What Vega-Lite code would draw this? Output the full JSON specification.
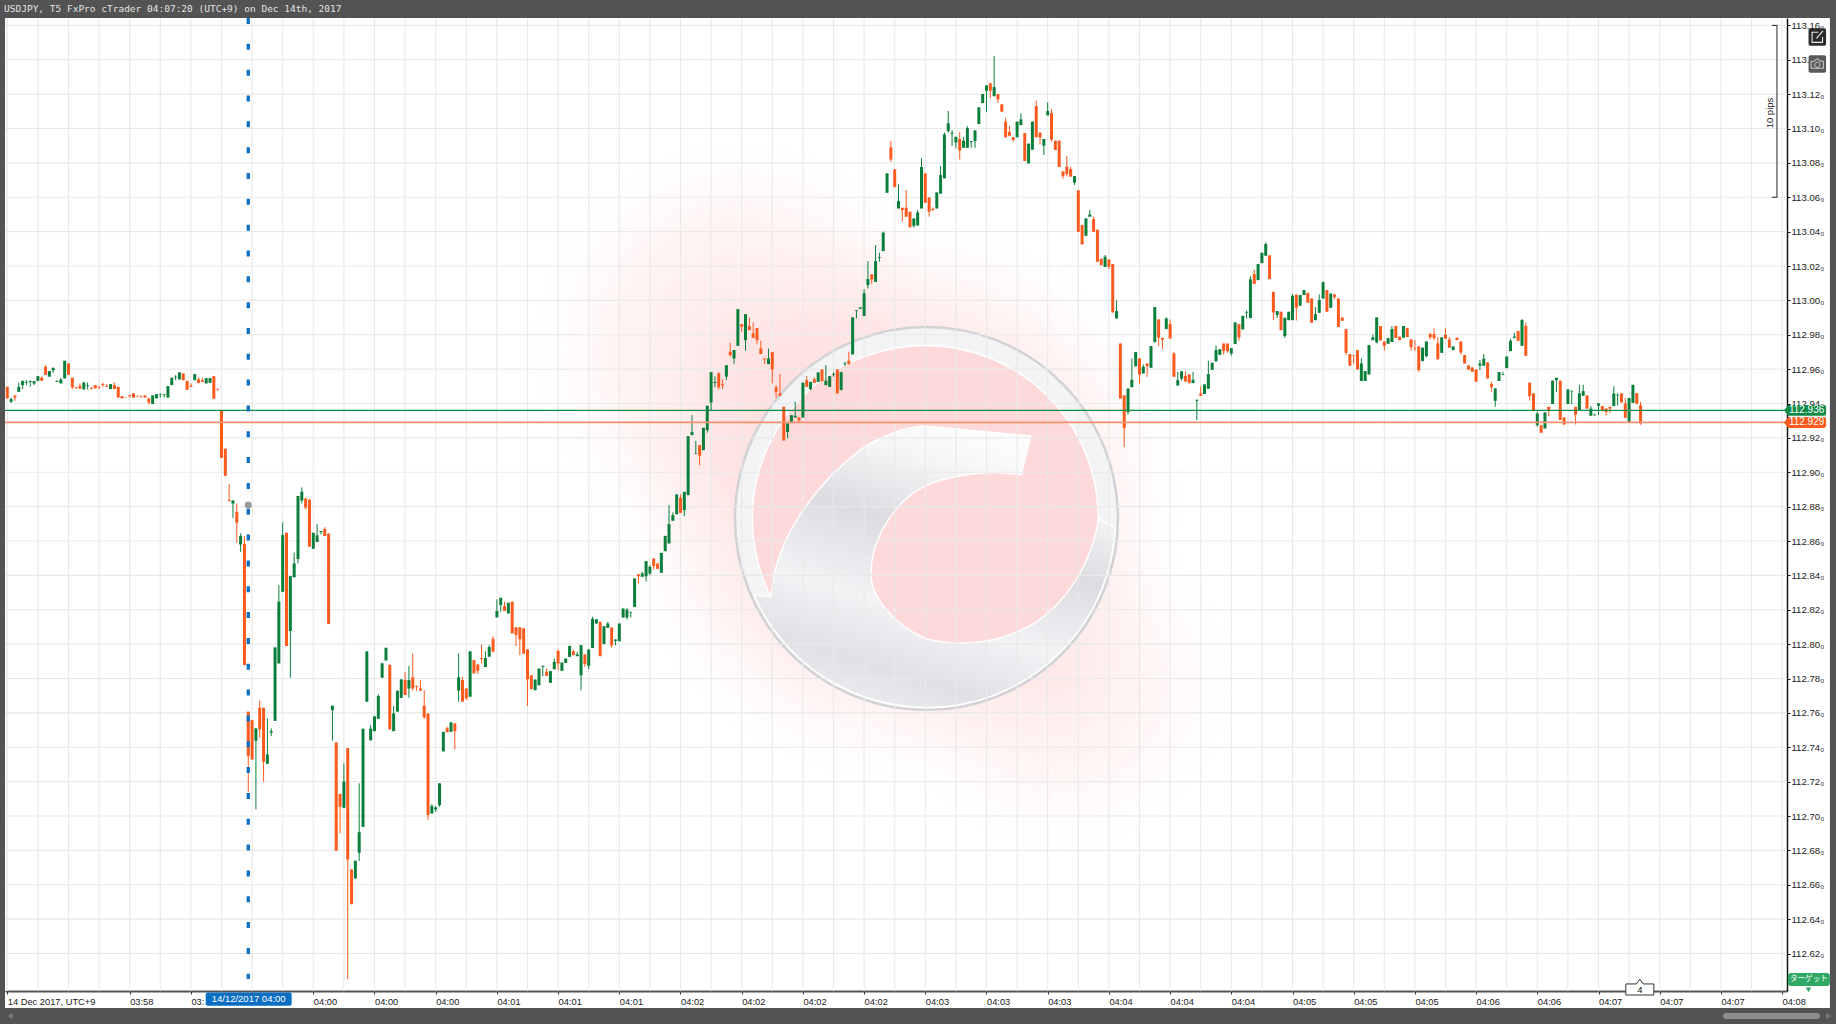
{"$schema":"https://vega.github.io/schema/vega-lite/v6.json","width":1782,"height":973,"autosize":{"type":"none"},"padding":{"left":5,"top":18,"right":49,"bottom":33},"background":"#ffffff","view":{"stroke":null},
"datasets":{
"gridx":[{"i":0,"p":113.1643,"p2":112.5982},{"i":8,"p":113.1643,"p2":112.5982},{"i":16,"p":113.1643,"p2":112.5982},{"i":24,"p":113.1643,"p2":112.5982},{"i":32,"p":113.1643,"p2":112.5982},{"i":40,"p":113.1643,"p2":112.5982},{"i":48,"p":113.1643,"p2":112.5982},{"i":56,"p":113.1643,"p2":112.5982},{"i":64,"p":113.1643,"p2":112.5982},{"i":72,"p":113.1643,"p2":112.5982},{"i":80,"p":113.1643,"p2":112.5982},{"i":88,"p":113.1643,"p2":112.5982},{"i":96,"p":113.1643,"p2":112.5982},{"i":104,"p":113.1643,"p2":112.5982},{"i":112,"p":113.1643,"p2":112.5982},{"i":120,"p":113.1643,"p2":112.5982},{"i":128,"p":113.1643,"p2":112.5982},{"i":136,"p":113.1643,"p2":112.5982},{"i":144,"p":113.1643,"p2":112.5982},{"i":152,"p":113.1643,"p2":112.5982},{"i":160,"p":113.1643,"p2":112.5982},{"i":168,"p":113.1643,"p2":112.5982},{"i":176,"p":113.1643,"p2":112.5982},{"i":184,"p":113.1643,"p2":112.5982},{"i":192,"p":113.1643,"p2":112.5982},{"i":200,"p":113.1643,"p2":112.5982},{"i":208,"p":113.1643,"p2":112.5982},{"i":216,"p":113.1643,"p2":112.5982},{"i":224,"p":113.1643,"p2":112.5982},{"i":232,"p":113.1643,"p2":112.5982},{"i":240,"p":113.1643,"p2":112.5982},{"i":248,"p":113.1643,"p2":112.5982},{"i":256,"p":113.1643,"p2":112.5982},{"i":264,"p":113.1643,"p2":112.5982},{"i":272,"p":113.1643,"p2":112.5982},{"i":280,"p":113.1643,"p2":112.5982},{"i":288,"p":113.1643,"p2":112.5982},{"i":296,"p":113.1643,"p2":112.5982},{"i":304,"p":113.1643,"p2":112.5982},{"i":312,"p":113.1643,"p2":112.5982},{"i":320,"p":113.1643,"p2":112.5982},{"i":328,"p":113.1643,"p2":112.5982},{"i":336,"p":113.1643,"p2":112.5982},{"i":344,"p":113.1643,"p2":112.5982},{"i":352,"p":113.1643,"p2":112.5982},{"i":360,"p":113.1643,"p2":112.5982},{"i":368,"p":113.1643,"p2":112.5982},{"i":376,"p":113.1643,"p2":112.5982},{"i":384,"p":113.1643,"p2":112.5982},{"i":392,"p":113.1643,"p2":112.5982},{"i":400,"p":113.1643,"p2":112.5982},{"i":408,"p":113.1643,"p2":112.5982},{"i":416,"p":113.1643,"p2":112.5982},{"i":424,"p":113.1643,"p2":112.5982},{"i":432,"p":113.1643,"p2":112.5982},{"i":440,"p":113.1643,"p2":112.5982},{"i":448,"p":113.1643,"p2":112.5982},{"i":456,"p":113.1643,"p2":112.5982},{"i":464,"p":113.1643,"p2":112.5982}],
"gridy":[{"p":113.16,"i":-0.6,"i2":465.28},{"p":113.14,"i":-0.6,"i2":465.28},{"p":113.12,"i":-0.6,"i2":465.28},{"p":113.1,"i":-0.6,"i2":465.28},{"p":113.08,"i":-0.6,"i2":465.28},{"p":113.06,"i":-0.6,"i2":465.28},{"p":113.04,"i":-0.6,"i2":465.28},{"p":113.02,"i":-0.6,"i2":465.28},{"p":113,"i":-0.6,"i2":465.28},{"p":112.98,"i":-0.6,"i2":465.28},{"p":112.96,"i":-0.6,"i2":465.28},{"p":112.94,"i":-0.6,"i2":465.28},{"p":112.92,"i":-0.6,"i2":465.28},{"p":112.9,"i":-0.6,"i2":465.28},{"p":112.88,"i":-0.6,"i2":465.28},{"p":112.86,"i":-0.6,"i2":465.28},{"p":112.84,"i":-0.6,"i2":465.28},{"p":112.82,"i":-0.6,"i2":465.28},{"p":112.8,"i":-0.6,"i2":465.28},{"p":112.78,"i":-0.6,"i2":465.28},{"p":112.76,"i":-0.6,"i2":465.28},{"p":112.74,"i":-0.6,"i2":465.28},{"p":112.72,"i":-0.6,"i2":465.28},{"p":112.7,"i":-0.6,"i2":465.28},{"p":112.68,"i":-0.6,"i2":465.28},{"p":112.66,"i":-0.6,"i2":465.28},{"p":112.64,"i":-0.6,"i2":465.28},{"p":112.62,"i":-0.6,"i2":465.28}],
"candles":[
{"i":0,"o":112.9497,"h":112.9497,"l":112.943,"c":112.943},
{"i":1,"o":112.941,"h":112.9435,"l":112.9404,"c":112.9426},
{"i":2,"o":112.9447,"h":112.9447,"l":112.9416,"c":112.9435},
{"i":3,"o":112.9468,"h":112.9521,"l":112.9468,"c":112.9497},
{"i":4,"o":112.9507,"h":112.9532,"l":112.9484,"c":112.9532},
{"i":5,"o":112.9521,"h":112.9536,"l":112.9507,"c":112.9525},
{"i":6,"o":112.9526,"h":112.9532,"l":112.9497,"c":112.9532},
{"i":7,"o":112.9517,"h":112.9532,"l":112.9507,"c":112.953},
{"i":8,"o":112.9532,"h":112.9559,"l":112.9532,"c":112.9559},
{"i":9,"o":112.955,"h":112.9559,"l":112.9532,"c":112.9532},
{"i":10,"o":112.9614,"h":112.9623,"l":112.9567,"c":112.9567},
{"i":11,"o":112.9556,"h":112.9589,"l":112.9556,"c":112.9589},
{"i":12,"o":112.9594,"h":112.9608,"l":112.9579,"c":112.9608},
{"i":13,"o":112.9526,"h":112.9532,"l":112.9526,"c":112.9532},
{"i":14,"o":112.9517,"h":112.955,"l":112.9517,"c":112.954},
{"i":15,"o":112.9546,"h":112.9649,"l":112.9546,"c":112.9649},
{"i":16,"o":112.9633,"h":112.9633,"l":112.9567,"c":112.9567},
{"i":17,"o":112.955,"h":112.955,"l":112.9484,"c":112.9494},
{"i":18,"o":112.9494,"h":112.9494,"l":112.9488,"c":112.9488},
{"i":19,"o":112.9503,"h":112.9517,"l":112.9484,"c":112.9488},
{"i":20,"o":112.9482,"h":112.9523,"l":112.9482,"c":112.9523},
{"i":21,"o":112.9503,"h":112.9523,"l":112.9482,"c":112.9507},
{"i":22,"o":112.9488,"h":112.9497,"l":112.9482,"c":112.9484},
{"i":23,"o":112.9507,"h":112.9507,"l":112.9488,"c":112.9488},
{"i":24,"o":112.9497,"h":112.9503,"l":112.9484,"c":112.9494},
{"i":25,"o":112.9513,"h":112.9521,"l":112.9497,"c":112.9507},
{"i":26,"o":112.9503,"h":112.9513,"l":112.9497,"c":112.9497},
{"i":27,"o":112.9484,"h":112.9513,"l":112.9484,"c":112.9513},
{"i":28,"o":112.9507,"h":112.9523,"l":112.9484,"c":112.9484},
{"i":29,"o":112.9497,"h":112.9497,"l":112.9435,"c":112.9435},
{"i":30,"o":112.9443,"h":112.9443,"l":112.943,"c":112.943},
{"i":31,"o":112.9435,"h":112.9435,"l":112.9433,"c":112.9433},
{"i":32,"o":112.9449,"h":112.9449,"l":112.9435,"c":112.9443},
{"i":33,"o":112.9459,"h":112.9459,"l":112.9435,"c":112.9435},
{"i":34,"o":112.9445,"h":112.9445,"l":112.9441,"c":112.9441},
{"i":35,"o":112.9445,"h":112.9445,"l":112.9433,"c":112.9441},
{"i":36,"o":112.9447,"h":112.9447,"l":112.9435,"c":112.9435},
{"i":37,"o":112.943,"h":112.943,"l":112.9395,"c":112.9406},
{"i":38,"o":112.9397,"h":112.9447,"l":112.9397,"c":112.9447},
{"i":39,"o":112.943,"h":112.9455,"l":112.943,"c":112.9455},
{"i":40,"o":112.9453,"h":112.9457,"l":112.9435,"c":112.9457},
{"i":41,"o":112.9451,"h":112.9455,"l":112.9435,"c":112.9455},
{"i":42,"o":112.9435,"h":112.9501,"l":112.9435,"c":112.9501},
{"i":43,"o":112.9507,"h":112.955,"l":112.9507,"c":112.955},
{"i":44,"o":112.9552,"h":112.9565,"l":112.9536,"c":112.9556},
{"i":45,"o":112.954,"h":112.9581,"l":112.954,"c":112.9581},
{"i":46,"o":112.9575,"h":112.9575,"l":112.9536,"c":112.9536},
{"i":47,"o":112.9532,"h":112.9532,"l":112.948,"c":112.948},
{"i":48,"o":112.9505,"h":112.9517,"l":112.9497,"c":112.9497},
{"i":49,"o":112.9536,"h":112.9571,"l":112.9536,"c":112.9571},
{"i":50,"o":112.954,"h":112.9552,"l":112.9519,"c":112.9519},
{"i":51,"o":112.9536,"h":112.955,"l":112.9526,"c":112.9526},
{"i":52,"o":112.9517,"h":112.9548,"l":112.9517,"c":112.9548},
{"i":53,"o":112.9521,"h":112.9548,"l":112.9521,"c":112.9548},
{"i":54,"o":112.9559,"h":112.9559,"l":112.9428,"c":112.9428},
{"i":55,"o":112.9486,"h":112.9486,"l":112.9474,"c":112.9482},
{"i":56,"o":112.9358,"h":112.9358,"l":112.9084,"c":112.9084},
{"i":57,"o":112.9137,"h":112.9137,"l":112.8979,"c":112.8979},
{"i":58,"o":112.8838,"h":112.8931,"l":112.8832,"c":112.8832},
{"i":59,"o":112.8818,"h":112.8836,"l":112.8735,"c":112.8836},
{"i":60,"o":112.877,"h":112.8818,"l":112.8589,"c":112.8706},
{"i":61,"o":112.858,"h":112.8644,"l":112.8537,"c":112.863},
{"i":62,"o":112.8583,"h":112.8629,"l":112.7878,"c":112.7878},
{"i":63,"o":112.7607,"h":112.7607,"l":112.7141,"c":112.7349},
{"i":64,"o":112.7558,"h":112.7558,"l":112.7329,"c":112.7329},
{"i":65,"o":112.7438,"h":112.751,"l":112.7038,"c":112.751},
{"i":66,"o":112.763,"h":112.7671,"l":112.7455,"c":112.7504},
{"i":67,"o":112.763,"h":112.763,"l":112.7199,"c":112.7316},
{"i":68,"o":112.7304,"h":112.7568,"l":112.7304,"c":112.7358},
{"i":69,"o":112.7486,"h":112.751,"l":112.7465,"c":112.7494},
{"i":70,"o":112.7554,"h":112.7981,"l":112.7554,"c":112.7981},
{"i":71,"o":112.7888,"h":112.8344,"l":112.7888,"c":112.8247},
{"i":72,"o":112.8305,"h":112.8709,"l":112.8305,"c":112.8635},
{"i":73,"o":112.8648,"h":112.8648,"l":112.7989,"c":112.7989},
{"i":74,"o":112.8076,"h":112.8396,"l":112.7805,"c":112.8396},
{"i":75,"o":112.8389,"h":112.8532,"l":112.8389,"c":112.847},
{"i":76,"o":112.8495,"h":112.8862,"l":112.847,"c":112.8862},
{"i":77,"o":112.8835,"h":112.8912,"l":112.8819,"c":112.8887},
{"i":78,"o":112.8848,"h":112.8848,"l":112.8784,"c":112.8794},
{"i":79,"o":112.8839,"h":112.8848,"l":112.8567,"c":112.8567},
{"i":80,"o":112.8555,"h":112.8648,"l":112.8555,"c":112.8648},
{"i":81,"o":112.8594,"h":112.8699,"l":112.8594,"c":112.8633},
{"i":82,"o":112.8652,"h":112.8658,"l":112.8639,"c":112.8658},
{"i":83,"o":112.867,"h":112.8681,"l":112.8629,"c":112.8629},
{"i":84,"o":112.8643,"h":112.8643,"l":112.8117,"c":112.8117},
{"i":85,"o":112.7616,"h":112.7642,"l":112.7438,"c":112.7642},
{"i":86,"o":112.7428,"h":112.7428,"l":112.6798,"c":112.6798},
{"i":87,"o":112.7129,"h":112.7129,"l":112.6899,"c":112.7054},
{"i":88,"o":112.7048,"h":112.7306,"l":112.7048,"c":112.7201},
{"i":89,"o":112.7395,"h":112.7395,"l":112.6051,"c":112.6747},
{"i":90,"o":112.6689,"h":112.6689,"l":112.6487,"c":112.6487},
{"i":91,"o":112.6637,"h":112.674,"l":112.6637,"c":112.674},
{"i":92,"o":112.6786,"h":112.719,"l":112.6738,"c":112.6906},
{"i":93,"o":112.6937,"h":112.7508,"l":112.6937,"c":112.7508},
{"i":94,"o":112.7665,"h":112.7958,"l":112.7665,"c":112.7958},
{"i":95,"o":112.7442,"h":112.7529,"l":112.7436,"c":112.7508},
{"i":96,"o":112.7494,"h":112.758,"l":112.7494,"c":112.758},
{"i":97,"o":112.7566,"h":112.7708,"l":112.7566,"c":112.7698},
{"i":98,"o":112.7805,"h":112.7892,"l":112.7805,"c":112.7888},
{"i":99,"o":112.7905,"h":112.7979,"l":112.7905,"c":112.7979},
{"i":100,"o":112.788,"h":112.788,"l":112.7504,"c":112.7504},
{"i":101,"o":112.7494,"h":112.764,"l":112.7494,"c":112.7597},
{"i":102,"o":112.7607,"h":112.7729,"l":112.7607,"c":112.7729},
{"i":103,"o":112.7688,"h":112.7795,"l":112.7688,"c":112.7795},
{"i":104,"o":112.7791,"h":112.7839,"l":112.7704,"c":112.7704},
{"i":105,"o":112.7742,"h":112.7872,"l":112.7688,"c":112.7791},
{"i":106,"o":112.7807,"h":112.7946,"l":112.7729,"c":112.7742},
{"i":107,"o":112.7758,"h":112.7758,"l":112.7727,"c":112.7752},
{"i":108,"o":112.7742,"h":112.7791,"l":112.7729,"c":112.7729},
{"i":109,"o":112.7642,"h":112.7733,"l":112.7564,"c":112.7574},
{"i":110,"o":112.7597,"h":112.7597,"l":112.6976,"c":112.7005},
{"i":111,"o":112.7015,"h":112.7069,"l":112.7015,"c":112.7058},
{"i":112,"o":112.7038,"h":112.7058,"l":112.7025,"c":112.705},
{"i":113,"o":112.7063,"h":112.719,"l":112.7054,"c":112.719},
{"i":114,"o":112.7376,"h":112.749,"l":112.7376,"c":112.749},
{"i":115,"o":112.751,"h":112.7519,"l":112.7488,"c":112.7488},
{"i":116,"o":112.749,"h":112.7545,"l":112.749,"c":112.7545},
{"i":117,"o":112.7539,"h":112.7539,"l":112.7387,"c":112.7494},
{"i":118,"o":112.7729,"h":112.7946,"l":112.7665,"c":112.7807},
{"i":119,"o":112.7791,"h":112.781,"l":112.7665,"c":112.7665},
{"i":120,"o":112.7742,"h":112.7742,"l":112.7675,"c":112.7684},
{"i":121,"o":112.7694,"h":112.7958,"l":112.7694,"c":112.7958},
{"i":122,"o":112.7907,"h":112.7907,"l":112.783,"c":112.783},
{"i":123,"o":112.7882,"h":112.7882,"l":112.7826,"c":112.7845},
{"i":124,"o":112.7919,"h":112.7999,"l":112.7888,"c":112.7913},
{"i":125,"o":112.7867,"h":112.7958,"l":112.7867,"c":112.7919},
{"i":126,"o":112.7927,"h":112.7995,"l":112.7927,"c":112.7983},
{"i":127,"o":112.803,"h":112.8047,"l":112.7956,"c":112.7956},
{"i":128,"o":112.8156,"h":112.826,"l":112.8156,"c":112.8193},
{"i":129,"o":112.8227,"h":112.827,"l":112.8189,"c":112.827},
{"i":130,"o":112.8222,"h":112.8247,"l":112.8193,"c":112.8193},
{"i":131,"o":112.8179,"h":112.8241,"l":112.8179,"c":112.8241},
{"i":132,"o":112.8247,"h":112.8247,"l":112.8063,"c":112.8063},
{"i":133,"o":112.8098,"h":112.8098,"l":112.7989,"c":112.8053},
{"i":134,"o":112.8098,"h":112.8098,"l":112.7936,"c":112.8028},
{"i":135,"o":112.8092,"h":112.8092,"l":112.7944,"c":112.7944},
{"i":136,"o":112.7969,"h":112.7969,"l":112.764,"c":112.7795},
{"i":137,"o":112.7819,"h":112.7819,"l":112.7738,"c":112.7738},
{"i":138,"o":112.7732,"h":112.7794,"l":112.7732,"c":112.7794},
{"i":139,"o":112.7761,"h":112.7858,"l":112.7761,"c":112.7858},
{"i":140,"o":112.7868,"h":112.7874,"l":112.7813,"c":112.7874},
{"i":141,"o":112.7839,"h":112.7858,"l":112.7815,"c":112.7815},
{"i":142,"o":112.7775,"h":112.7843,"l":112.7775,"c":112.7843},
{"i":143,"o":112.7854,"h":112.7916,"l":112.7854,"c":112.7897},
{"i":144,"o":112.7961,"h":112.7969,"l":112.7848,"c":112.7887},
{"i":145,"o":112.7845,"h":112.7893,"l":112.7845,"c":112.7893},
{"i":146,"o":112.7891,"h":112.7916,"l":112.7891,"c":112.7916},
{"i":147,"o":112.7926,"h":112.799,"l":112.7926,"c":112.799},
{"i":148,"o":112.7959,"h":112.7969,"l":112.7936,"c":112.7936},
{"i":149,"o":112.793,"h":112.7955,"l":112.793,"c":112.794},
{"i":150,"o":112.7819,"h":112.7994,"l":112.7732,"c":112.7994},
{"i":151,"o":112.794,"h":112.794,"l":112.7868,"c":112.7883},
{"i":152,"o":112.7874,"h":112.7969,"l":112.7854,"c":112.7969},
{"i":153,"o":112.7978,"h":112.8159,"l":112.7978,"c":112.8147},
{"i":154,"o":112.812,"h":112.8145,"l":112.812,"c":112.8145},
{"i":155,"o":112.813,"h":112.813,"l":112.793,"c":112.793},
{"i":156,"o":112.8,"h":112.8104,"l":112.8,"c":112.8104},
{"i":157,"o":112.8095,"h":112.813,"l":112.8095,"c":112.812},
{"i":158,"o":112.8097,"h":112.8097,"l":112.798,"c":112.7992},
{"i":159,"o":112.8019,"h":112.8027,"l":112.7994,"c":112.8027},
{"i":160,"o":112.8017,"h":112.812,"l":112.8017,"c":112.812},
{"i":161,"o":112.8155,"h":112.8207,"l":112.8155,"c":112.8207},
{"i":162,"o":112.8155,"h":112.8211,"l":112.8143,"c":112.8201},
{"i":163,"o":112.8184,"h":112.8188,"l":112.8155,"c":112.8188},
{"i":164,"o":112.8217,"h":112.8382,"l":112.8217,"c":112.8382},
{"i":165,"o":112.8407,"h":112.8407,"l":112.8353,"c":112.8395},
{"i":166,"o":112.8392,"h":112.8421,"l":112.8392,"c":112.8411},
{"i":167,"o":112.8395,"h":112.8483,"l":112.8366,"c":112.8483},
{"i":168,"o":112.8411,"h":112.8459,"l":112.8401,"c":112.845},
{"i":169,"o":112.8498,"h":112.8498,"l":112.8434,"c":112.8454},
{"i":170,"o":112.8469,"h":112.8469,"l":112.8438,"c":112.8438},
{"i":171,"o":112.8415,"h":112.8531,"l":112.8415,"c":112.8531},
{"i":172,"o":112.8541,"h":112.863,"l":112.8541,"c":112.863},
{"i":173,"o":112.8586,"h":112.8809,"l":112.8586,"c":112.8698},
{"i":174,"o":112.8718,"h":112.8766,"l":112.8718,"c":112.875},
{"i":175,"o":112.8756,"h":112.8871,"l":112.8756,"c":112.8871},
{"i":176,"o":112.8851,"h":112.8871,"l":112.8764,"c":112.8764},
{"i":177,"o":112.878,"h":112.8886,"l":112.8745,"c":112.8886},
{"i":178,"o":112.8867,"h":112.921,"l":112.8867,"c":112.921},
{"i":179,"o":112.9216,"h":112.9332,"l":112.9216,"c":112.9235},
{"i":180,"o":112.9106,"h":112.9183,"l":112.9106,"c":112.9109},
{"i":181,"o":112.9158,"h":112.9158,"l":112.9041,"c":112.9096},
{"i":182,"o":112.9129,"h":112.9259,"l":112.9129,"c":112.9259},
{"i":183,"o":112.9245,"h":112.9387,"l":112.923,"c":112.9387},
{"i":184,"o":112.9406,"h":112.9583,"l":112.9358,"c":112.9583},
{"i":185,"o":112.9519,"h":112.9559,"l":112.9494,"c":112.9525},
{"i":186,"o":112.9575,"h":112.9583,"l":112.9482,"c":112.9494},
{"i":187,"o":112.9513,"h":112.954,"l":112.9484,"c":112.9507},
{"i":188,"o":112.9556,"h":112.9623,"l":112.9536,"c":112.9623},
{"i":189,"o":112.9701,"h":112.9753,"l":112.9672,"c":112.9682},
{"i":190,"o":112.9662,"h":112.9711,"l":112.9629,"c":112.9711},
{"i":191,"o":112.9736,"h":112.9949,"l":112.9736,"c":112.9949},
{"i":192,"o":112.9862,"h":112.9862,"l":112.9817,"c":112.9847},
{"i":193,"o":112.9769,"h":112.992,"l":112.9707,"c":112.992},
{"i":194,"o":112.985,"h":112.9901,"l":112.9827,"c":112.9827},
{"i":195,"o":112.9808,"h":112.9872,"l":112.9783,"c":112.9783},
{"i":196,"o":112.9839,"h":112.9839,"l":112.9746,"c":112.9769},
{"i":197,"o":112.972,"h":112.9765,"l":112.9688,"c":112.9688},
{"i":198,"o":112.9662,"h":112.9662,"l":112.9629,"c":112.9656},
{"i":199,"o":112.9629,"h":112.972,"l":112.9629,"c":112.9662},
{"i":200,"o":112.9699,"h":112.9699,"l":112.9517,"c":112.9598},
{"i":201,"o":112.9494,"h":112.9507,"l":112.9433,"c":112.9468},
{"i":202,"o":112.9459,"h":112.9571,"l":112.9445,"c":112.9445},
{"i":203,"o":112.9381,"h":112.9381,"l":112.9185,"c":112.9185},
{"i":204,"o":112.9235,"h":112.9284,"l":112.9197,"c":112.9284},
{"i":205,"o":112.9288,"h":112.9332,"l":112.9288,"c":112.9332},
{"i":206,"o":112.9319,"h":112.941,"l":112.9319,"c":112.9329},
{"i":207,"o":112.9319,"h":112.9319,"l":112.9288,"c":112.9303},
{"i":208,"o":112.9319,"h":112.9521,"l":112.9319,"c":112.9521},
{"i":209,"o":112.9536,"h":112.9559,"l":112.9497,"c":112.9497},
{"i":210,"o":112.9484,"h":112.9526,"l":112.9478,"c":112.9526},
{"i":211,"o":112.954,"h":112.9552,"l":112.9521,"c":112.9521},
{"i":212,"o":112.9526,"h":112.9581,"l":112.9526,"c":112.9581},
{"i":213,"o":112.9598,"h":112.9598,"l":112.953,"c":112.953},
{"i":214,"o":112.9507,"h":112.9623,"l":112.9507,"c":112.9532},
{"i":215,"o":112.9497,"h":112.9559,"l":112.9497,"c":112.9559},
{"i":216,"o":112.9567,"h":112.9583,"l":112.9556,"c":112.9571},
{"i":217,"o":112.9598,"h":112.9598,"l":112.9459,"c":112.9459},
{"i":218,"o":112.9478,"h":112.9583,"l":112.9478,"c":112.9583},
{"i":219,"o":112.9629,"h":112.9643,"l":112.9618,"c":112.9633},
{"i":220,"o":112.9649,"h":112.9701,"l":112.9629,"c":112.9629},
{"i":221,"o":112.9686,"h":112.9901,"l":112.9686,"c":112.9901},
{"i":222,"o":112.994,"h":112.9944,"l":112.9895,"c":112.9944},
{"i":223,"o":112.9951,"h":112.9959,"l":112.9951,"c":112.9959},
{"i":224,"o":112.9909,"h":113.0064,"l":112.9909,"c":113.0041},
{"i":225,"o":113.0089,"h":113.0229,"l":113.007,"c":113.0124},
{"i":226,"o":113.0151,"h":113.0151,"l":113.0095,"c":113.0122},
{"i":227,"o":113.0108,"h":113.0322,"l":113.0108,"c":113.0229},
{"i":228,"o":113.0248,"h":113.0277,"l":113.0225,"c":113.0252},
{"i":229,"o":113.0287,"h":113.04,"l":113.0287,"c":113.0394},
{"i":230,"o":113.0626,"h":113.0739,"l":113.0626,"c":113.0739},
{"i":231,"o":113.089,"h":113.0929,"l":113.0807,"c":113.082},
{"i":232,"o":113.0762,"h":113.0762,"l":113.0659,"c":113.0659},
{"i":233,"o":113.0535,"h":113.0675,"l":113.0535,"c":113.0578},
{"i":234,"o":113.0539,"h":113.0539,"l":113.0458,"c":113.0526},
{"i":235,"o":113.0539,"h":113.0642,"l":113.0487,"c":113.0487},
{"i":236,"o":113.0516,"h":113.0516,"l":113.0425,"c":113.0425},
{"i":237,"o":113.0434,"h":113.0477,"l":113.0423,"c":113.0477},
{"i":238,"o":113.0436,"h":113.0526,"l":113.0436,"c":113.0512},
{"i":239,"o":113.0535,"h":113.0826,"l":113.0535,"c":113.0776},
{"i":240,"o":113.0739,"h":113.0739,"l":113.0568,"c":113.0568},
{"i":241,"o":113.0599,"h":113.0599,"l":113.0487,"c":113.0516},
{"i":242,"o":113.0533,"h":113.0541,"l":113.0522,"c":113.0526},
{"i":243,"o":113.0535,"h":113.0628,"l":113.0535,"c":113.0628},
{"i":244,"o":113.0621,"h":113.0782,"l":113.0621,"c":113.0729},
{"i":245,"o":113.071,"h":113.0976,"l":113.071,"c":113.0966},
{"i":246,"o":113.0985,"h":113.1102,"l":113.0976,"c":113.103},
{"i":247,"o":113.097,"h":113.0991,"l":113.0898,"c":113.0976},
{"i":248,"o":113.0919,"h":113.0952,"l":113.0884,"c":113.0952},
{"i":249,"o":113.0939,"h":113.098,"l":113.082,"c":113.0871},
{"i":250,"o":113.0888,"h":113.0952,"l":113.0888,"c":113.0929},
{"i":251,"o":113.0888,"h":113.1014,"l":113.0888,"c":113.1003},
{"i":252,"o":113.0921,"h":113.0927,"l":113.0888,"c":113.0927},
{"i":253,"o":113.0927,"h":113.0989,"l":113.0888,"c":113.0989},
{"i":254,"o":113.1026,"h":113.1123,"l":113.1026,"c":113.1123},
{"i":255,"o":113.1148,"h":113.1201,"l":113.1148,"c":113.1201},
{"i":256,"o":113.122,"h":113.1251,"l":113.1098,"c":113.1251},
{"i":257,"o":113.1263,"h":113.1263,"l":113.1175,"c":113.122},
{"i":258,"o":113.1189,"h":113.1422,"l":113.1185,"c":113.1241},
{"i":259,"o":113.1201,"h":113.1201,"l":113.115,"c":113.117},
{"i":260,"o":113.1141,"h":113.1141,"l":113.1098,"c":113.1098},
{"i":261,"o":113.104,"h":113.1063,"l":113.0949,"c":113.0949},
{"i":262,"o":113.098,"h":113.1014,"l":113.0958,"c":113.0958},
{"i":263,"o":113.095,"h":113.095,"l":113.0923,"c":113.0933},
{"i":264,"o":113.0949,"h":113.104,"l":113.0949,"c":113.104},
{"i":265,"o":113.102,"h":113.1088,"l":113.102,"c":113.1053},
{"i":266,"o":113.0974,"h":113.0974,"l":113.0811,"c":113.0811},
{"i":267,"o":113.0797,"h":113.0912,"l":113.0797,"c":113.0912},
{"i":268,"o":113.0877,"h":113.104,"l":113.0877,"c":113.104},
{"i":269,"o":113.1131,"h":113.1162,"l":113.0949,"c":113.0949},
{"i":270,"o":113.0976,"h":113.0976,"l":113.0908,"c":113.0949},
{"i":271,"o":113.09,"h":113.0939,"l":113.0846,"c":113.0939},
{"i":272,"o":113.1077,"h":113.1152,"l":113.1077,"c":113.1102},
{"i":273,"o":113.109,"h":113.1113,"l":113.0923,"c":113.0935},
{"i":274,"o":113.0929,"h":113.0929,"l":113.0875,"c":113.0875},
{"i":275,"o":113.0929,"h":113.0929,"l":113.0776,"c":113.0776},
{"i":276,"o":113.0751,"h":113.0751,"l":113.0708,"c":113.0723},
{"i":277,"o":113.0778,"h":113.084,"l":113.072,"c":113.0735},
{"i":278,"o":113.0764,"h":113.0778,"l":113.072,"c":113.072},
{"i":279,"o":113.0685,"h":113.0723,"l":113.0671,"c":113.0723},
{"i":280,"o":113.064,"h":113.064,"l":113.0399,"c":113.0399},
{"i":281,"o":113.0438,"h":113.0438,"l":113.0326,"c":113.0326},
{"i":282,"o":113.0376,"h":113.0477,"l":113.0376,"c":113.0477},
{"i":283,"o":113.0487,"h":113.0526,"l":113.0487,"c":113.05},
{"i":284,"o":113.0473,"h":113.0487,"l":113.0399,"c":113.0399},
{"i":285,"o":113.0411,"h":113.0411,"l":113.0225,"c":113.0225},
{"i":286,"o":113.0242,"h":113.0242,"l":113.0205,"c":113.0205},
{"i":287,"o":113.0194,"h":113.0264,"l":113.0194,"c":113.0254},
{"i":288,"o":113.0238,"h":113.0238,"l":113.0184,"c":113.0196},
{"i":289,"o":113.0211,"h":113.0211,"l":112.993,"c":112.993},
{"i":290,"o":112.9895,"h":113,"l":112.9895,"c":112.9938},
{"i":291,"o":112.9749,"h":112.9749,"l":112.9429,"c":112.9429},
{"i":292,"o":112.9447,"h":112.9447,"l":112.9146,"c":112.9257},
{"i":293,"o":112.935,"h":112.9487,"l":112.9336,"c":112.9487},
{"i":294,"o":112.9495,"h":112.9662,"l":112.9495,"c":112.9538},
{"i":295,"o":112.9617,"h":112.9699,"l":112.9617,"c":112.9699},
{"i":296,"o":112.9662,"h":112.9662,"l":112.9517,"c":112.9569},
{"i":297,"o":112.9575,"h":112.9627,"l":112.9575,"c":112.9614},
{"i":298,"o":112.9633,"h":112.9633,"l":112.9555,"c":112.9617},
{"i":299,"o":112.9608,"h":112.9734,"l":112.9608,"c":112.9734},
{"i":300,"o":112.9757,"h":112.9961,"l":112.9757,"c":112.9961},
{"i":301,"o":112.9889,"h":112.9889,"l":112.9736,"c":112.9784},
{"i":302,"o":112.9782,"h":112.9782,"l":112.9716,"c":112.9771},
{"i":303,"o":112.9833,"h":112.9901,"l":112.9833,"c":112.9895},
{"i":304,"o":112.9862,"h":112.9889,"l":112.9778,"c":112.9778},
{"i":305,"o":112.9691,"h":112.9699,"l":112.9555,"c":112.9555},
{"i":306,"o":112.9505,"h":112.9584,"l":112.9505,"c":112.9536},
{"i":307,"o":112.9544,"h":112.9588,"l":112.9534,"c":112.9588},
{"i":308,"o":112.9561,"h":112.9588,"l":112.9528,"c":112.9528},
{"i":309,"o":112.9569,"h":112.9569,"l":112.9517,"c":112.952},
{"i":310,"o":112.9519,"h":112.9584,"l":112.9519,"c":112.9538},
{"i":311,"o":112.9416,"h":112.9422,"l":112.9303,"c":112.9422},
{"i":312,"o":112.9458,"h":112.9501,"l":112.9445,"c":112.9445},
{"i":313,"o":112.9456,"h":112.9511,"l":112.9456,"c":112.9511},
{"i":314,"o":112.9486,"h":112.9649,"l":112.9486,"c":112.9571},
{"i":315,"o":112.9596,"h":112.9637,"l":112.9596,"c":112.9637},
{"i":316,"o":112.9645,"h":112.9738,"l":112.9645,"c":112.9711},
{"i":317,"o":112.9683,"h":112.9716,"l":112.9683,"c":112.9716},
{"i":318,"o":112.9749,"h":112.9749,"l":112.9685,"c":112.9705},
{"i":319,"o":112.9749,"h":112.9749,"l":112.9695,"c":112.9705},
{"i":320,"o":112.9691,"h":112.9722,"l":112.9678,"c":112.9722},
{"i":321,"o":112.9746,"h":112.9872,"l":112.9746,"c":112.9872},
{"i":322,"o":112.9862,"h":112.9862,"l":112.9765,"c":112.9784},
{"i":323,"o":112.9831,"h":112.991,"l":112.9831,"c":112.991},
{"i":324,"o":112.9928,"h":112.9941,"l":112.9895,"c":112.9932},
{"i":325,"o":112.9897,"h":113.0141,"l":112.9897,"c":113.0122},
{"i":326,"o":113.0153,"h":113.018,"l":113.0095,"c":113.0095},
{"i":327,"o":113.0118,"h":113.0211,"l":113.0118,"c":113.0211},
{"i":328,"o":113.0217,"h":113.0277,"l":113.0217,"c":113.0277},
{"i":329,"o":113.026,"h":113.0337,"l":113.026,"c":113.0328},
{"i":330,"o":113.0262,"h":113.0262,"l":113.0124,"c":113.0124},
{"i":331,"o":113.005,"h":113.005,"l":112.9885,"c":112.993},
{"i":332,"o":112.9916,"h":112.9938,"l":112.9897,"c":112.9938},
{"i":333,"o":112.9934,"h":112.9934,"l":112.9827,"c":112.9827},
{"i":334,"o":112.9792,"h":112.9899,"l":112.9782,"c":112.9899},
{"i":335,"o":112.9885,"h":112.9934,"l":112.9885,"c":112.9934},
{"i":336,"o":112.9885,"h":113.0037,"l":112.9885,"c":113.0027},
{"i":337,"o":113.0033,"h":113.0033,"l":112.9883,"c":112.9957},
{"i":338,"o":112.9969,"h":113.0031,"l":112.9969,"c":113.0031},
{"i":339,"o":113.0031,"h":113.006,"l":113.0031,"c":113.006},
{"i":340,"o":113.0044,"h":113.0044,"l":112.9986,"c":112.9986},
{"i":341,"o":113.0011,"h":113.0011,"l":112.987,"c":112.987},
{"i":342,"o":112.9885,"h":112.9961,"l":112.9885,"c":112.992},
{"i":343,"o":112.9928,"h":113.0035,"l":112.9928,"c":113.0002},
{"i":344,"o":113.0011,"h":113.011,"l":113.0011,"c":113.0106},
{"i":345,"o":113.006,"h":113.006,"l":112.9934,"c":112.9934},
{"i":346,"o":112.9957,"h":113.004,"l":112.9957,"c":113.004},
{"i":347,"o":113.0035,"h":113.0035,"l":113.0007,"c":113.0019},
{"i":348,"o":113.0011,"h":113.0011,"l":112.9846,"c":112.9846},
{"i":349,"o":112.9901,"h":112.9901,"l":112.9881,"c":112.9881},
{"i":350,"o":112.9833,"h":112.9833,"l":112.9682,"c":112.9695},
{"i":351,"o":112.9688,"h":112.9688,"l":112.962,"c":112.962},
{"i":352,"o":112.9682,"h":112.9682,"l":112.963,"c":112.9678},
{"i":353,"o":112.9711,"h":112.9711,"l":112.9598,"c":112.9598},
{"i":354,"o":112.9531,"h":112.9662,"l":112.9531,"c":112.9633},
{"i":355,"o":112.9531,"h":112.9589,"l":112.9531,"c":112.9589},
{"i":356,"o":112.9569,"h":112.974,"l":112.9569,"c":112.974},
{"i":357,"o":112.9769,"h":112.9802,"l":112.9769,"c":112.9785},
{"i":358,"o":112.9756,"h":112.9901,"l":112.975,"c":112.9901},
{"i":359,"o":112.9851,"h":112.9851,"l":112.9767,"c":112.9767},
{"i":360,"o":112.9761,"h":112.9761,"l":112.9707,"c":112.9736},
{"i":361,"o":112.9748,"h":112.9785,"l":112.9748,"c":112.9779},
{"i":362,"o":112.9758,"h":112.9851,"l":112.9758,"c":112.9833},
{"i":363,"o":112.9851,"h":112.9851,"l":112.9781,"c":112.9781},
{"i":364,"o":112.9789,"h":112.9789,"l":112.9769,"c":112.9769},
{"i":365,"o":112.9783,"h":112.9851,"l":112.9783,"c":112.9851},
{"i":366,"o":112.9839,"h":112.9839,"l":112.9787,"c":112.9787},
{"i":367,"o":112.9773,"h":112.9773,"l":112.9707,"c":112.9728},
{"i":368,"o":112.9721,"h":112.9769,"l":112.9707,"c":112.9717},
{"i":369,"o":112.9732,"h":112.9732,"l":112.9583,"c":112.9595},
{"i":370,"o":112.9647,"h":112.9725,"l":112.9647,"c":112.9725},
{"i":371,"o":112.9676,"h":112.9761,"l":112.9668,"c":112.9761},
{"i":372,"o":112.9804,"h":112.9812,"l":112.9773,"c":112.9785},
{"i":373,"o":112.9804,"h":112.9837,"l":112.9769,"c":112.9781},
{"i":374,"o":112.975,"h":112.9785,"l":112.9657,"c":112.9657},
{"i":375,"o":112.9695,"h":112.9785,"l":112.9695,"c":112.9785},
{"i":376,"o":112.98,"h":112.9837,"l":112.9777,"c":112.9777},
{"i":377,"o":112.9773,"h":112.9785,"l":112.9725,"c":112.9725},
{"i":378,"o":112.9711,"h":112.9732,"l":112.9711,"c":112.9732},
{"i":379,"o":112.9783,"h":112.9783,"l":112.9769,"c":112.9769},
{"i":380,"o":112.9761,"h":112.9761,"l":112.9686,"c":112.9697},
{"i":381,"o":112.9682,"h":112.9682,"l":112.9633,"c":112.9633},
{"i":382,"o":112.9622,"h":112.9622,"l":112.9597,"c":112.9597},
{"i":383,"o":112.961,"h":112.961,"l":112.9585,"c":112.9585},
{"i":384,"o":112.9598,"h":112.9598,"l":112.9527,"c":112.9527},
{"i":385,"o":112.962,"h":112.9653,"l":112.9595,"c":112.9633},
{"i":386,"o":112.962,"h":112.9688,"l":112.962,"c":112.9661},
{"i":387,"o":112.9639,"h":112.9639,"l":112.9546,"c":112.9546},
{"i":388,"o":112.9513,"h":112.9527,"l":112.9467,"c":112.9496},
{"i":389,"o":112.9416,"h":112.9488,"l":112.9381,"c":112.9488},
{"i":390,"o":112.9531,"h":112.9583,"l":112.9531,"c":112.9583},
{"i":391,"o":112.9567,"h":112.9585,"l":112.9567,"c":112.9571},
{"i":392,"o":112.9606,"h":112.9674,"l":112.9606,"c":112.9674},
{"i":393,"o":112.9705,"h":112.9775,"l":112.9705,"c":112.9765},
{"i":394,"o":112.9781,"h":112.9812,"l":112.9781,"c":112.9789},
{"i":395,"o":112.9822,"h":112.9822,"l":112.9765,"c":112.9765},
{"i":396,"o":112.9736,"h":112.9891,"l":112.9736,"c":112.9886},
{"i":397,"o":112.9851,"h":112.9872,"l":112.9678,"c":112.9678},
{"i":398,"o":112.9521,"h":112.9521,"l":112.9416,"c":112.9443},
{"i":399,"o":112.9459,"h":112.9459,"l":112.9362,"c":112.9362},
{"i":400,"o":112.9274,"h":112.9352,"l":112.9265,"c":112.9342},
{"i":401,"o":112.9274,"h":112.9274,"l":112.923,"c":112.923},
{"i":402,"o":112.9255,"h":112.9348,"l":112.9255,"c":112.9348},
{"i":403,"o":112.9381,"h":112.9381,"l":112.9327,"c":112.9358},
{"i":404,"o":112.9397,"h":112.9533,"l":112.9397,"c":112.9533},
{"i":405,"o":112.9536,"h":112.955,"l":112.9468,"c":112.955},
{"i":406,"o":112.9533,"h":112.9533,"l":112.9304,"c":112.9304},
{"i":407,"o":112.9319,"h":112.9319,"l":112.9278,"c":112.9278},
{"i":408,"o":112.9397,"h":112.9482,"l":112.9397,"c":112.9482},
{"i":409,"o":112.947,"h":112.9474,"l":112.9397,"c":112.9474},
{"i":410,"o":112.9381,"h":112.9381,"l":112.9278,"c":112.9335},
{"i":411,"o":112.9358,"h":112.9509,"l":112.9358,"c":112.9459},
{"i":412,"o":112.9445,"h":112.9509,"l":112.9445,"c":112.9472},
{"i":413,"o":112.9447,"h":112.9447,"l":112.937,"c":112.937},
{"i":414,"o":112.9329,"h":112.9385,"l":112.9329,"c":112.937},
{"i":415,"o":112.9331,"h":112.9342,"l":112.9331,"c":112.9335},
{"i":416,"o":112.9387,"h":112.9401,"l":112.9333,"c":112.9401},
{"i":417,"o":112.9385,"h":112.9385,"l":112.9362,"c":112.9362},
{"i":418,"o":112.9371,"h":112.9371,"l":112.9329,"c":112.935},
{"i":419,"o":112.9381,"h":112.9381,"l":112.9346,"c":112.937},
{"i":420,"o":112.9385,"h":112.9501,"l":112.9385,"c":112.9459},
{"i":421,"o":112.9447,"h":112.9459,"l":112.9389,"c":112.9451},
{"i":422,"o":112.9459,"h":112.9459,"l":112.9406,"c":112.9406},
{"i":423,"o":112.9401,"h":112.943,"l":112.9317,"c":112.9317},
{"i":424,"o":112.9288,"h":112.9432,"l":112.9288,"c":112.9432},
{"i":425,"o":112.9404,"h":112.9509,"l":112.9404,"c":112.9509},
{"i":426,"o":112.9461,"h":112.9461,"l":112.9397,"c":112.9397},
{"i":427,"o":112.9389,"h":112.941,"l":112.9276,"c":112.9284}
]},
"encoding":{
"x":{"field":"i","type":"quantitative","title":null,"scale":{"domain":[-0.6,465.28],"nice":false,"zero":false,"padding":0},
"axis":{"title":null,"grid":false,"orient":"bottom","values":[0,32,48,64,80,96,112,128,144,160,176,192,208,224,240,256,272,288,304,320,336,352,368,384,400,416,432,448,464],"labelExpr":"['14 Dec 2017, UTC+9','','03:58','03:','04:00','04:00','04:00','04:00','04:01','04:01','04:01','04:02','04:02','04:02','04:02','04:03','04:03','04:03','04:04','04:04','04:04','04:05','04:05','04:05','04:06','04:06','04:07','04:07','04:07','04:08'][datum.value/16]","labelAlign":"left","labelFont":"Liberation Sans","labelFontSize":9.3,"labelColor":"#1a1a1a","labelPadding":3,"labelOverlap":false,"labelFlush":false,"labelBound":false,"tickSize":3,"tickColor":"#333333","domainColor":"#555555","domainWidth":2}},
"y":{"field":"p","type":"quantitative","title":null,"scale":{"domain":[112.5982,113.1643],"nice":false,"zero":false},
"axis":{"title":null,"grid":false,"orient":"right","values":[113.16,113.14,113.12,113.1,113.08,113.06,113.04,113.02,113,112.98,112.96,112.94,112.92,112.9,112.88,112.86,112.84,112.82,112.8,112.78,112.76,112.74,112.72,112.7,112.68,112.66,112.64,112.62],"labelExpr":"format(datum.value,'.2f')+'₀'","labelFont":"Liberation Sans","labelFontSize":9.6,"labelColor":"#1a1a1a","labelPadding":1,"labelOverlap":false,"labelBound":false,"labelFlush":false,"tickSize":3,"tickColor":"#111111","domainColor":"#111111","domainWidth":1.5}}
},
"layer":[
{"data":{"values":[{"i":192.1,"p":112.9712}]},"mark":{"type":"point","shape":"circle","filled":true,"opacity":1,"size":176400,"fill":{"gradient":"radial","x1":0.5,"y1":0.5,"r1":0,"x2":0.5,"y2":0.5,"r2":0.5,"stops":[{"offset":0,"color":"rgba(255,205,205,0.45)"},{"offset":0.6,"color":"rgba(255,210,210,0.25)"},{"offset":1,"color":"rgba(255,225,225,0)"}]},"stroke":null}},
{"data":{"values":[{"i":275.2,"p":112.7791}]},"mark":{"type":"point","shape":"circle","filled":true,"opacity":1,"size":120000,"fill":{"gradient":"radial","x1":0.5,"y1":0.5,"r1":0,"x2":0.5,"y2":0.5,"r2":0.5,"stops":[{"offset":0,"color":"rgba(255,205,205,0.4)"},{"offset":0.6,"color":"rgba(255,210,210,0.18)"},{"offset":1,"color":"rgba(255,225,225,0)"}]},"stroke":null}},
{"data":{"values":[{"i":233.4,"p":112.8839}]},"mark":{"type":"point","shape":"circle","filled":true,"opacity":1,"size":320000,"fill":{"gradient":"radial","x1":0.5,"y1":0.5,"r1":0,"x2":0.5,"y2":0.5,"r2":0.5,"stops":[{"offset":0,"color":"rgba(255,205,205,0.7)"},{"offset":0.6,"color":"rgba(255,205,205,0.4)"},{"offset":1,"color":"rgba(255,225,225,0)"}]},"stroke":null}},
{"data":{"values":[{"i":240.3,"p":112.8731}]},"mark":{"type":"point","shape":"circle","filled":true,"opacity":1,"size":146689,"fill":"#f4f4f7","stroke":"#d2d2d5","strokeWidth":2.5}},
{"data":{"values":[{"i":240,"p":112.8731}]},"mark":{"type":"point","shape":"circle","filled":true,"opacity":1,"size":119716,"fill":"#fed9d9","stroke":"#ffffff","strokeWidth":1.5}},
{"data":{"values":[{"i":240.3,"p":112.8731}]},"mark":{"type":"point","filled":true,"opacity":1,"size":146689,"shape":"M-.81 .408 C-.8 .15 -.62 -.15 -.33 -.37 C-.2 -.45 -.08 -.485 0 -.482 L.545 -.431 L.494 -.229 C.3 -.26 .05 -.22 -.076 -.13 C-.2 -.03 -.29 .13 -.29 .287 C-.29 .42 -.15 .57 0 .628 C.2 .68 .4 .64 .557 .551 C.72 .45 .86 .25 .899 0 L.985 .05 A.985 .985 0 0 1 -.9 .4 Z","fill":{"gradient":"linear","x1":0.7,"y1":0,"x2":0.3,"y2":1,"stops":[{"offset":0,"color":"#ffffff"},{"offset":0.18,"color":"#f5f5f7"},{"offset":0.4,"color":"#dcdce1"},{"offset":0.66,"color":"#f3f3f6"},{"offset":0.86,"color":"#e0e0e5"},{"offset":1,"color":"#ececf0"}]},"stroke":"#ffffff","strokeWidth":1.5}},
{"data":{"name":"gridx"},"mark":{"type":"rule","color":"#e9e9e9","strokeWidth":1.1},"encoding":{"y2":{"field":"p2"}}},
{"data":{"name":"gridy"},"mark":{"type":"rule","color":"#e9e9e9","strokeWidth":1.1},"encoding":{"x2":{"field":"i2"}}},
{"data":{"name":"candles"},"mark":{"type":"rule","strokeWidth":1},"encoding":{"y":{"field":"l","type":"quantitative","title":null,"scale":{"domain":[112.5982,113.1643],"nice":false,"zero":false}},"y2":{"field":"h"},"color":{"condition":{"test":"datum.c>=datum.o","value":"#0a7f3c"},"value":"#fb5a1e"}}},
{"data":{"name":"candles"},"mark":{"type":"bar","size":3},"encoding":{"y":{"field":"o","type":"quantitative","title":null,"scale":{"domain":[112.5982,113.1643],"nice":false,"zero":false}},"y2":{"field":"c"},"color":{"condition":{"test":"datum.c>=datum.o","value":"#0a7f3c"},"value":"#fb5a1e"}}},
{"data":{"values":[{"p":112.936,"i":-0.6,"i2":465.28}]},"mark":{"type":"rule","color":"#0c8a46","strokeWidth":1.2},"encoding":{"x2":{"field":"i2"}}},
{"data":{"values":[{"p":112.929,"i":-0.6,"i2":465.28}]},"mark":{"type":"rule","color":"#f8906f","strokeWidth":1.8},"encoding":{"x2":{"field":"i2"}}},
{"data":{"values":[{"i":63,"p":113.1643,"p2":112.6052}]},"mark":{"type":"rule","color":"#0b6fc4","strokeWidth":3.3,"strokeDash":[6,19.83]},"encoding":{"y2":{"field":"p2"}}},
{"data":{"values":[{"i":63,"p":112.881}]},"mark":{"type":"point","shape":"circle","filled":true,"opacity":1,"size":49,"color":"#9a9a9a"}},
{"data":{"values":[{"i":462.66,"p":113.16,"p2":113.06}]},"mark":{"type":"rule","color":"#222222","strokeWidth":1},"encoding":{"y2":{"field":"p2"}}},
{"data":{"values":[{"i":461.35,"i2":462.66,"p":113.16},{"i":461.35,"i2":462.66,"p":113.06}]},"mark":{"type":"rule","color":"#222222","strokeWidth":1},"encoding":{"x2":{"field":"i2"}}},
{"data":{"values":[{"i":460.9,"p":113.109,"t":"10 pips"}]},"mark":{"type":"text","angle":270,"align":"center","baseline":"middle","font":"Liberation Sans","fontSize":9.5,"color":"#222222"},"encoding":{"text":{"field":"t"}}},
{"data":{"values":[{"i":-5,"i2":490,"p":113.1643,"p2":113.19},{"i":-5,"i2":-0.6,"p":112.57,"p2":113.19},{"i":476.5,"i2":490,"p":112.57,"p2":113.19},{"i":-5,"i2":490,"p":112.5883,"p2":112.56}]},"mark":{"type":"rect","color":"#535353"},"encoding":{"x2":{"field":"i2"},"y2":{"field":"p2"}}},
{"data":{"values":[{"i":-0.85,"p":113.1696,"t":"USDJPY, T5 FxPro cTrader 04:07:20 (UTC+9) on Dec 14th, 2017"}]},"mark":{"type":"text","align":"left","baseline":"middle","font":"DejaVu Sans Mono","fontSize":9.5,"color":"#e4e4e4"},"encoding":{"text":{"field":"t"}}},
{"data":{"values":[{"i":470,"p":112.936}]},"mark":{"type":"point","filled":true,"opacity":1,"size":1764,"shape":"M-1 0 L-.8 -.26 L.9 -.26 Q1 -.26 1 -.16 L1 .16 Q1 .26 .9 .26 L-.8 .26 Z","color":"#0c8a46"}},
{"data":{"values":[{"i":470,"p":112.929}]},"mark":{"type":"point","filled":true,"opacity":1,"size":1764,"shape":"M-1 0 L-.8 -.26 L.9 -.26 Q1 -.26 1 -.16 L1 .16 Q1 .26 .9 .26 L-.8 .26 Z","color":"#fb5a1e"}},
{"data":{"values":[{"i":470.4,"p":112.936,"t":"112.936"},{"i":470.4,"p":112.929,"t":"112.929"}]},"mark":{"type":"text","align":"center","baseline":"middle","font":"Liberation Sans","fontSize":10,"color":"#ffffff"},"encoding":{"text":{"field":"t"}}},
{"data":{"values":[{"i":473.2,"p":113.1532}]},"mark":{"type":"point","filled":true,"opacity":1,"size":306,"shape":"M-.8 -1 L.8 -1 Q1 -1 1 -.8 L1 .8 Q1 1 .8 1 L-.8 1 Q-1 1 -1 .8 L-1 -.8 Q-1 -1 -.8 -1 Z","color":"#2b2b2b"}},
{"data":{"values":[{"i":473.2,"p":113.1376}]},"mark":{"type":"point","filled":true,"opacity":1,"size":306,"shape":"M-.8 -1 L.8 -1 Q1 -1 1 -.8 L1 .8 Q1 1 .8 1 L-.8 1 Q-1 1 -1 .8 L-1 -.8 Q-1 -1 -.8 -1 Z","color":"#5a5a5a"}},
{"data":{"values":[{"i":473.2,"p":113.1532}]},"mark":{"type":"point","filled":false,"opacity":1,"size":306,"shape":"M.1 -.55 L-.6 -.55 L-.6 .6 L.6 .6 L.6 0 M-.1 .15 L.65 -.7","stroke":"#e8e8e8","strokeWidth":1.1}},
{"data":{"values":[{"i":473.2,"p":113.1376}]},"mark":{"type":"point","filled":false,"opacity":1,"size":306,"shape":"M-.7 -.3 L-.3 -.3 L-.15 -.55 L.15 -.55 L.3 -.3 L.7 -.3 L.7 .5 L-.7 .5 Z M.3 .1 A.3 .3 0 1 1 -.3 .1 A.3 .3 0 1 1 .3 .1 Z","stroke":"#dddddd","strokeWidth":0.9}},
{"data":{"values":[{"i":51.87,"i2":74.35,"p":112.5974,"p2":112.5896}]},"mark":{"type":"rect","color":"#0a6fc2","cornerRadius":2},"encoding":{"x2":{"field":"i2"},"y2":{"field":"p2"}}},
{"data":{"values":[{"i":63.1,"p":112.5935,"t":"14/12/2017 04:00"}]},"mark":{"type":"text","align":"center","baseline":"middle","font":"Liberation Sans","fontSize":9.5,"color":"#ffffff"},"encoding":{"text":{"field":"t"}}},
{"data":{"values":[{"i":465.5,"i2":476.5,"p":112.6087,"p2":112.6011}]},"mark":{"type":"rect","color":"#2fa866","cornerRadius":3},"encoding":{"x2":{"field":"i2"},"y2":{"field":"p2"}}},
{"data":{"values":[{"i":471,"p":112.6049,"t":"ターゲット"}]},"mark":{"type":"text","align":"center","baseline":"middle","font":"Noto Sans CJK JP","fontSize":7.6,"color":"#ffffff"},"encoding":{"text":{"field":"t"}}},
{"data":{"values":[{"i":470.9,"p":112.5988}]},"mark":{"type":"point","shape":"triangle-down","filled":true,"opacity":1,"size":30,"color":"#2fa866"}},
{"data":{"values":[{"i":426.8,"p":112.5988}]},"mark":{"type":"point","filled":true,"opacity":1,"size":784,"shape":"M-1 -.43 L-.25 -.43 L0 -.76 L.25 -.43 L1 -.43 L1 .36 L-1 .36 Z","fill":"#ffffff","stroke":"#333333","strokeWidth":1}},
{"data":{"values":[{"i":426.8,"p":112.5986,"t":"4"}]},"mark":{"type":"text","align":"center","baseline":"middle","font":"Liberation Sans","fontSize":9.5,"color":"#111111"},"encoding":{"text":{"field":"t"}}},
{"data":{"values":[{"i":448.5,"i2":473.9,"p":112.5854,"p2":112.5819}]},"mark":{"type":"rect","color":"#8c8c8c","cornerRadius":3},"encoding":{"x2":{"field":"i2"},"y2":{"field":"p2"}}},
{"data":{"values":[{"i":0.7,"p":112.5836}]},"mark":{"type":"point","shape":"triangle-left","filled":true,"opacity":1,"size":40,"color":"#777777"}},
{"data":{"values":[{"i":476.2,"p":112.5836}]},"mark":{"type":"point","shape":"triangle-right","filled":true,"opacity":1,"size":40,"color":"#777777"}}
]}
